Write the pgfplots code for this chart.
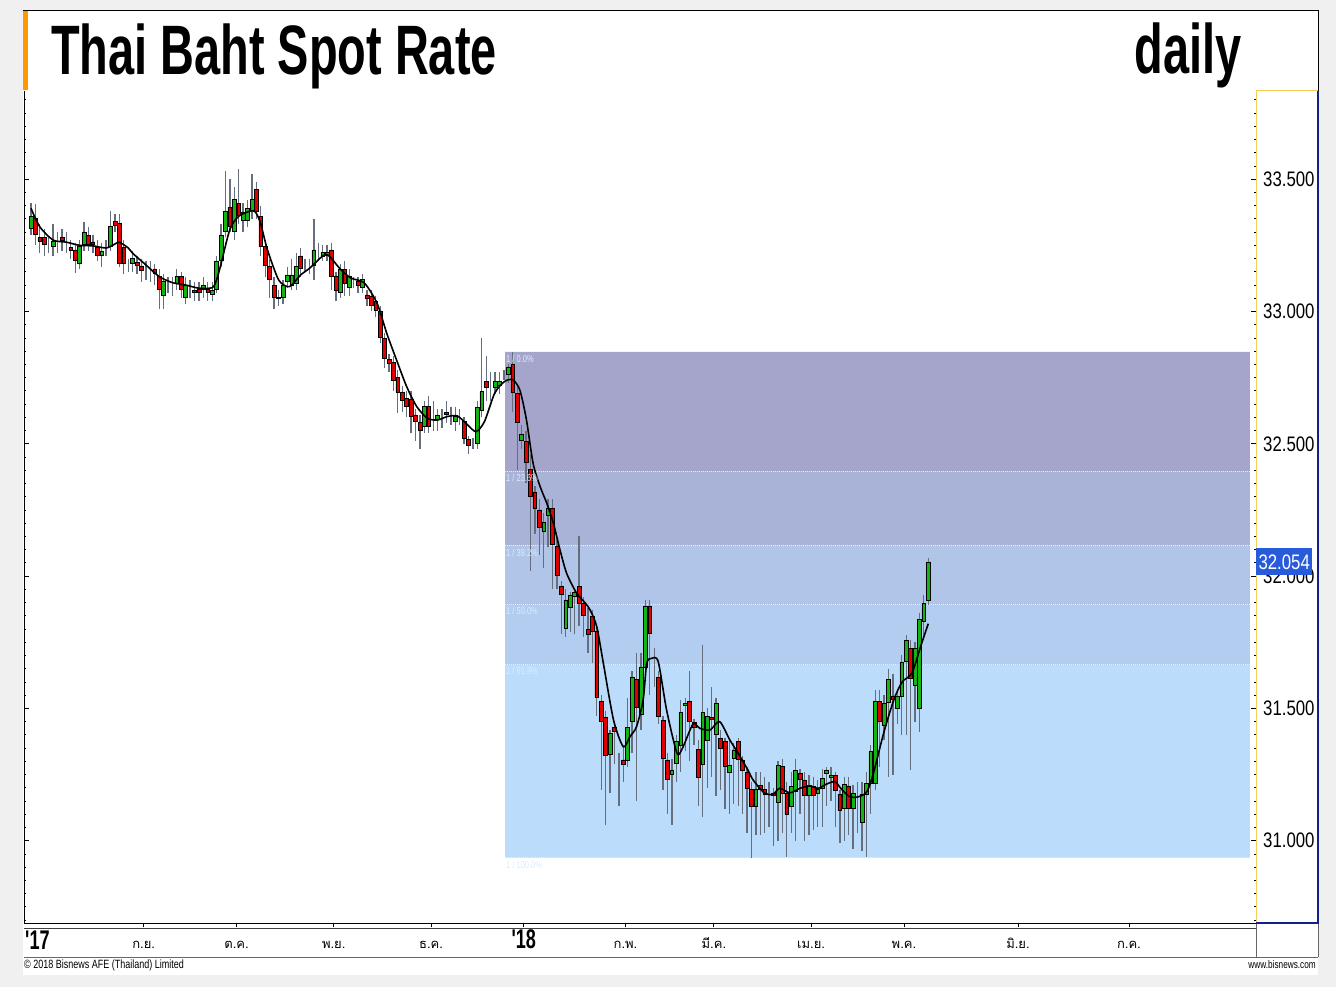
\documentclass[border=0pt]{standalone}
\usepackage{fontspec}
\usepackage{pgfplots}
\usepackage{pgfplotstable}
\pgfplotsset{compat=1.18}
\setmainfont{Liberation Sans}
\newfontfamily\titlefont[FakeStretch=0.67]{Liberation Sans}
\newfontfamily\pricefont[FakeStretch=0.8]{Liberation Sans}
\newfontfamily\smallfont[FakeStretch=0.75]{Liberation Sans}
\newfontfamily\thaifont[Script=Thai]{Loma}

\definecolor{bggray}{RGB}{240,240,240}
\definecolor{orangebar}{RGB}{255,153,0}
\definecolor{panelyellow}{RGB}{245,205,90}
\definecolor{panelblue}{RGB}{20,30,140}
\definecolor{cgreen}{RGB}{20,180,20}
\definecolor{cred}{RGB}{225,0,0}
\definecolor{wick}{RGB}{100,110,125}
\definecolor{fibA}{RGB}{165,165,204}
\definecolor{fibB}{RGB}{168,179,215}
\definecolor{fibC}{RGB}{176,197,231}
\definecolor{fibD}{RGB}{178,205,239}
\definecolor{fibE}{RGB}{187,221,251}
\definecolor{fibline}{RGB}{225,242,255}
\definecolor{fibtext}{RGB}{215,238,255}
\definecolor{lastblue}{RGB}{40,90,220}

\pgfplotstableread{
i o h l c
0 33.314 33.410 33.290 33.359
1 33.352 33.405 33.250 33.292
2 33.279 33.330 33.220 33.267
3 33.279 33.310 33.210 33.255
4 33.248 33.280 33.220 33.248
5 33.248 33.330 33.210 33.267
6 33.267 33.300 33.220 33.267
7 33.279 33.310 33.230 33.270
8 33.264 33.300 33.220 33.264
9 33.241 33.270 33.200 33.233
10 33.233 33.260 33.145 33.195
11 33.182 33.270 33.160 33.248
12 33.253 33.340 33.230 33.301
13 33.288 33.320 33.230 33.255
14 33.263 33.290 33.220 33.253
15 33.243 33.270 33.190 33.214
16 33.214 33.260 33.170 33.229
17 33.241 33.270 33.210 33.241
18 33.248 33.378 33.230 33.321
19 33.340 33.370 33.300 33.325
20 33.333 33.370 33.170 33.182
21 33.241 33.270 33.140 33.182
22 33.176 33.200 33.150 33.176
23 33.182 33.230 33.150 33.201
24 33.185 33.210 33.140 33.176
25 33.172 33.200 33.110 33.157
26 33.161 33.190 33.120 33.161
27 33.157 33.190 33.110 33.157
28 33.161 33.180 33.100 33.144
29 33.134 33.160 33.010 33.084
30 33.063 33.140 33.010 33.113
31 33.109 33.130 33.070 33.109
32 33.107 33.130 33.060 33.107
33 33.107 33.160 33.080 33.132
34 33.132 33.150 33.050 33.085
35 33.054 33.130 33.030 33.100
36 33.094 33.120 33.050 33.094
37 33.081 33.110 33.040 33.072
38 33.085 33.110 33.040 33.072
39 33.085 33.130 33.050 33.100
40 33.085 33.110 33.040 33.072
41 33.066 33.110 33.040 33.081
42 33.084 33.210 33.070 33.191
43 33.195 33.330 33.170 33.289
44 33.302 33.530 33.280 33.380
45 33.393 33.500 33.300 33.321
46 33.302 33.470 33.270 33.424
47 33.409 33.540 33.330 33.365
48 33.346 33.410 33.300 33.374
49 33.346 33.420 33.320 33.390
50 33.381 33.520 33.350 33.424
51 33.462 33.490 33.350 33.377
52 33.358 33.400 33.210 33.245
53 33.245 33.270 33.130 33.176
54 33.170 33.200 33.050 33.123
55 33.100 33.130 33.010 33.054
56 33.053 33.080 33.020 33.050
57 33.054 33.120 33.030 33.100
58 33.115 33.170 33.090 33.138
59 33.100 33.200 33.080 33.138
60 33.107 33.220 33.080 33.170
61 33.210 33.240 33.130 33.163
62 33.178 33.200 33.150 33.178
63 33.176 33.200 33.140 33.176
64 33.176 33.350 33.120 33.233
65 33.223 33.260 33.200 33.223
66 33.210 33.250 33.190 33.223
67 33.214 33.250 33.190 33.223
68 33.233 33.260 33.080 33.134
69 33.132 33.150 33.040 33.081
70 33.071 33.180 33.050 33.160
71 33.160 33.190 33.060 33.107
72 33.091 33.160 33.060 33.132
73 33.113 33.130 33.090 33.113
74 33.113 33.130 33.070 33.100
75 33.091 33.140 33.070 33.122
76 33.063 33.080 33.020 33.050
77 33.059 33.080 33.000 33.025
78 33.037 33.060 32.980 33.006
79 33.002 33.020 32.880 32.902
80 32.899 32.920 32.785 32.823
81 32.819 32.840 32.770 32.804
82 32.808 32.830 32.700 32.741
83 32.750 32.780 32.615 32.694
84 32.694 32.720 32.620 32.663
85 32.672 32.700 32.600 32.640
86 32.669 32.700 32.540 32.605
87 32.609 32.630 32.510 32.584
88 32.581 32.610 32.480 32.552
89 32.565 32.660 32.540 32.640
90 32.640 32.680 32.540 32.565
91 32.590 32.660 32.550 32.590
92 32.594 32.630 32.550 32.609
93 32.596 32.630 32.560 32.596
94 32.618 32.660 32.580 32.611
95 32.609 32.640 32.570 32.609
96 32.584 32.640 32.550 32.603
97 32.607 32.630 32.570 32.607
98 32.584 32.600 32.500 32.521
99 32.517 32.530 32.460 32.495
100 32.498 32.520 32.480 32.498
101 32.502 32.660 32.480 32.637
102 32.628 32.900 32.600 32.697
103 32.737 32.830 32.660 32.713
104 32.710 32.770 32.660 32.710
105 32.713 32.770 32.690 32.737
106 32.722 32.770 32.690 32.737
107 32.754 32.780 32.740 32.754
108 32.764 32.800 32.730 32.789
109 32.800 32.847 32.620 32.694
110 32.690 32.720 32.400 32.583
111 32.514 32.570 32.480 32.535
112 32.510 32.550 32.350 32.430
113 32.404 32.460 32.020 32.302
114 32.315 32.340 32.160 32.256
115 32.250 32.290 32.080 32.184
116 32.171 32.240 32.030 32.205
117 32.231 32.290 32.110 32.256
118 32.256 32.290 31.953 32.121
119 32.113 32.140 31.950 32.004
120 31.960 31.980 31.780 31.932
121 31.803 31.950 31.770 31.910
122 31.882 31.940 31.790 31.929
123 31.925 31.950 31.780 31.939
124 31.960 32.150 31.810 31.897
125 31.897 31.920 31.770 31.853
126 31.799 31.880 31.710 31.781
127 31.849 31.870 31.670 31.790
128 31.790 31.810 31.470 31.542
129 31.525 31.550 31.190 31.450
130 31.466 31.490 31.060 31.321
131 31.328 31.420 31.180 31.406
132 31.428 31.450 31.290 31.412
133 31.305 31.330 31.130 31.305
134 31.305 31.360 31.220 31.290
135 31.302 31.540 31.280 31.428
136 31.450 31.640 31.330 31.616
137 31.610 31.710 31.150 31.503
138 31.479 31.710 31.420 31.655
139 31.655 31.910 31.610 31.887
140 31.887 31.910 31.550 31.784
141 31.617 31.730 31.580 31.617
142 31.617 31.640 31.440 31.471
143 31.454 31.470 31.190 31.311
144 31.305 31.330 31.100 31.232
145 31.252 31.310 31.060 31.267
146 31.292 31.400 31.220 31.374
147 31.362 31.530 31.260 31.485
148 31.510 31.540 31.340 31.519
149 31.525 31.640 31.300 31.452
150 31.446 31.460 31.360 31.428
151 31.345 31.380 31.130 31.240
152 31.290 31.740 31.090 31.485
153 31.381 31.500 31.200 31.471
154 31.466 31.580 31.240 31.459
155 31.403 31.540 31.170 31.519
156 31.387 31.420 31.190 31.349
157 31.374 31.390 31.120 31.282
158 31.257 31.380 31.100 31.286
159 31.311 31.370 31.140 31.343
160 31.374 31.390 31.130 31.308
161 31.305 31.320 31.100 31.267
162 31.257 31.280 31.030 31.198
163 31.194 31.220 30.935 31.129
164 31.129 31.260 31.020 31.194
165 31.208 31.260 31.020 31.195
166 31.194 31.240 31.030 31.176
167 31.194 31.220 31.050 31.194
168 31.181 31.200 30.980 31.173
169 31.147 31.300 31.000 31.286
170 31.280 31.310 31.030 31.179
171 31.179 31.220 30.940 31.101
172 31.129 31.260 31.030 31.204
173 31.185 31.310 31.000 31.267
174 31.255 31.270 31.100 31.232
175 31.229 31.260 31.000 31.173
176 31.173 31.250 31.020 31.210
177 31.204 31.240 31.040 31.173
178 31.179 31.230 31.050 31.194
179 31.198 31.270 31.050 31.236
180 31.255 31.280 31.130 31.265
181 31.239 31.280 31.150 31.248
182 31.248 31.260 31.050 31.192
183 31.176 31.190 30.990 31.116
184 31.122 31.240 31.000 31.214
185 31.207 31.240 31.020 31.122
186 31.122 31.210 30.970 31.179
187 31.189 31.220 31.030 31.189
188 31.068 31.220 30.960 31.176
189 31.176 31.260 30.940 31.217
190 31.217 31.360 31.100 31.336
191 31.217 31.570 31.190 31.528
192 31.525 31.570 31.280 31.450
193 31.435 31.550 31.380 31.519
194 31.522 31.650 31.240 31.610
195 31.547 31.630 31.250 31.534
196 31.500 31.570 31.440 31.544
197 31.544 31.700 31.400 31.674
198 31.677 31.777 31.400 31.758
199 31.727 31.760 31.267 31.614
200 31.588 31.750 31.450 31.727
201 31.500 31.860 31.410 31.837
202 31.828 31.930 31.770 31.897
203 31.910 32.070 31.890 32.054
}\candles

\pgfplotstableread{
i ma
0 33.390
2 33.320
5 33.270
8 33.262
11 33.250
14 33.248
17 33.240
19 33.255
20 33.262
22 33.240
23 33.220
26 33.176
29 33.132
32 33.109
35 33.100
38 33.088
41 33.090
42 33.120
43 33.180
45 33.310
47 33.360
50 33.381
51 33.370
52 33.330
53.5 33.233
56 33.120
58 33.094
59 33.100
61 33.138
63 33.163
66 33.210
67 33.215
68 33.200
70 33.160
72.4 33.126
75.4 33.108
78.3 33.031
80.5 32.917
82.7 32.817
85 32.716
87.3 32.640
89.7 32.596
92 32.590
94.2 32.603
96.5 32.605
98.8 32.571
100.7 32.546
102.6 32.584
104.9 32.691
107.1 32.735
109 32.742
110.6 32.703
112.1 32.590
113.6 32.426
115.2 32.338
116.7 32.275
118.2 32.199
119.7 32.098
121.2 32.010
123.4 31.937
125.3 31.900
126.5 31.872
128 31.809
129.5 31.670
131.8 31.456
134 31.355
135.5 31.393
137 31.431
138.5 31.532
139.3 31.670
140.4 31.689
141.9 31.677
143.8 31.494
146.1 31.333
147.2 31.343
149.1 31.418
150 31.444
151.3 31.425
153.6 31.418
155.8 31.450
158.1 31.381
160 31.330
162.2 31.267
163.4 31.229
166 31.179
167.9 31.176
169.4 31.198
171.7 31.181
174 31.198
176.2 31.207
178.1 31.198
180 31.214
181.9 31.223
183.4 31.194
185.3 31.166
187.2 31.166
189.1 31.185
190.6 31.255
192.9 31.406
195.2 31.532
197.1 31.600
199.3 31.633
201.2 31.730
203 31.820
}\matable

\pgfplotsset{base/.style={scale only axis, width=1232pt, height=832pt,
  at={(24pt,64pt)}, anchor=south west,
  xmin=-1.58, xmax=277.15, ymin=30.689, ymax=33.8333}}

\begin{document}
\begin{tikzpicture}
\useasboundingbox (0pt,0pt) rectangle (1336pt,987pt);
\begin{scope}[x=1pt,y=1pt]
\fill[bggray] (0,0) rectangle (1336,987);
\fill[white] (23,12) rectangle (1318,976);
\end{scope}

% ---- axis 1: fibonacci zones, wicks, y ticks
\begin{axis}[base,
  axis line style={draw=none},
  xtick=\empty,
  ytick={30.5,31,31.5,32,32.5,33,33.5,34},
  minor y tick num=9,
  tick align=inside,
  ytick pos=both,
  yticklabel pos=right,
  major tick length=5pt, minor tick length=2.5pt,
  tick style={black, line width=0.8pt},
  yticklabel style={font=\pricefont\fontsize{21}{21}\selectfont, anchor=west, inner sep=0pt, xshift=7pt,
    /pgf/number format/.cd, fixed, fixed zerofill, precision=3, assume math mode=true},
]
\addplot[draw=none, fill=fibA] coordinates {(107.2,32.847) (275.8,32.847) (275.8,32.396) (107.2,32.396)};
\addplot[draw=none, fill=fibB] coordinates {(107.2,32.396) (275.8,32.396) (275.8,32.117) (107.2,32.117)};
\addplot[draw=none, fill=fibC] coordinates {(107.2,32.117) (275.8,32.117) (275.8,31.891) (107.2,31.891)};
\addplot[draw=none, fill=fibD] coordinates {(107.2,31.891) (275.8,31.891) (275.8,31.665) (107.2,31.665)};
\addplot[draw=none, fill=fibE] coordinates {(107.2,31.665) (275.8,31.665) (275.8,30.935) (107.2,30.935)};
\addplot[fibline, densely dotted, line width=1pt] coordinates {(107.2,32.847) (275.8,32.847)};
\addplot[fibline, densely dotted, line width=1pt] coordinates {(107.2,32.396) (275.8,32.396)};
\addplot[fibline, densely dotted, line width=1pt] coordinates {(107.2,32.117) (275.8,32.117)};
\addplot[fibline, densely dotted, line width=1pt] coordinates {(107.2,31.891) (275.8,31.891)};
\addplot[fibline, densely dotted, line width=1pt] coordinates {(107.2,31.665) (275.8,31.665)};
\addplot[fibline, densely dotted, line width=1pt] coordinates {(107.2,30.935) (275.8,30.935)};
% wicks
\addplot[draw=none, mark=none,
  error bars/.cd, y dir=minus, y explicit, error mark=none,
  error bar style={draw=wick, line width=1.3pt}]
  table[x=i, y=h, y error expr=\thisrow{h}-\thisrow{l}] {\candles};
\end{axis}

% ---- axis 2: candle bodies
\begin{axis}[base, hide axis, ybar stacked, bar width=0.86]
\addplot[draw=none, fill=none] table[x=i, y expr={min(\thisrow{o},\thisrow{c})}] {\candles};
\addplot[draw=black, fill=cgreen, line width=0.6pt] table[x=i, y expr={max(\thisrow{c}-\thisrow{o},0)}] {\candles};
\addplot[draw=black, fill=cred, line width=0.6pt] table[x=i, y expr={max(\thisrow{o}-\thisrow{c},0)}] {\candles};
\end{axis}

% ---- axis 3: moving average, x ticks and labels
\begin{axis}[base,
  axis line style={draw=none},
  ytick=\empty,
  xtick={25.5,46.5,68.5,90.5,134.5,154.5,176.5,197.5,223.3,248.4},
  xticklabels={ก.ย.,ต.ค.,พ.ย.,ธ.ค.,ก.พ.,มี.ค.,เม.ย.,พ.ค.,มิ.ย.,ก.ค.},
  extra x ticks={111.5},
  extra x tick labels={'18},
  extra x tick style={xticklabel style={anchor=base, font=\titlefont\bfseries\fontsize{27}{27}\selectfont}},
  xtick pos=left,
  tick align=outside,
  major tick length=4.5pt,
  tick style={black, line width=0.8pt},
  xticklabel style={font=\thaifont\fontsize{13}{13}\selectfont, anchor=base, inner sep=0pt, yshift=-21pt},
]
\addplot[black, line width=1.6pt, smooth, tension=0.45] table[x=i, y=ma] {\matable};
\end{axis}

\begin{scope}[x=1pt,y=1pt]
% outer frame
\draw[black, line width=1pt] (23,976) -- (1318,976) -- (1318,896);
\fill[orangebar] (23,897) rectangle (27.5,975.5);
% left axis line
\draw[black, line width=1pt] (24,64) -- (24,896);
% bottom axis strip
\draw[black, line width=1.6pt] (24,63.5) -- (1256,63.5);
\draw[black!75, line width=0.7pt] (24,58.5) -- (1256,58.5);
\draw[black!60, line width=0.8pt] (24,30) -- (1318,30);
\draw[black!60, line width=0.8pt] (1256,30) -- (1256,64);
\draw[black!60, line width=0.8pt] (1318,30) -- (1318,64);
% price panel
\draw[panelyellow, line width=1pt] (1318,896) -- (1256,896) -- (1256,64);
\draw[panelblue, line width=1.2pt] (1318,896) -- (1318,64) -- (1256,64);
% titles
\node[anchor=base west, inner sep=0pt, font=\titlefont\bfseries\fontsize{70}{70}\selectfont] at (51,912) {Thai Baht Spot Rate};
\node[anchor=base east, inner sep=0pt, font=\titlefont\bfseries\fontsize{70}{70}\selectfont] at (1242,913) {daily};
% year label at left edge
\node[anchor=base west, inner sep=0pt, font=\titlefont\bfseries\fontsize{27}{27}\selectfont] at (25,37) {'17};
% fib labels
\begin{scope}[every node/.style={anchor=north west, inner sep=0pt, text=fibtext, font=\smallfont\fontsize{10}{10}\selectfont}]
\node at (506,632) {1 / 0.0\%};
\node at (506,513) {1 / 23.6\%};
\node at (506,438) {1 / 38.2\%};
\node at (506,380) {1 / 50.0\%};
\node at (506,320) {1 / 61.8\%};
\node at (506,126) {1 / 100.0\%};
\end{scope}
% last price box
\node[fill=lastblue, text=white, anchor=west, inner sep=0pt, minimum height=27pt, minimum width=56pt,
  font=\pricefont\fontsize{21}{21}\selectfont] at (1256,425.2) {32.054};
% footer
\node[anchor=base west, inner sep=0pt, font=\smallfont\fontsize{12}{12}\selectfont] at (24,18) {\textcopyright{} 2018 Bisnews AFE (Thailand) Limited};
\node[anchor=base east, inner sep=0pt, font=\smallfont\fontsize{11}{11}\selectfont] at (1316,18) {www.bisnews.com};
\end{scope}
\end{tikzpicture}
\end{document}
